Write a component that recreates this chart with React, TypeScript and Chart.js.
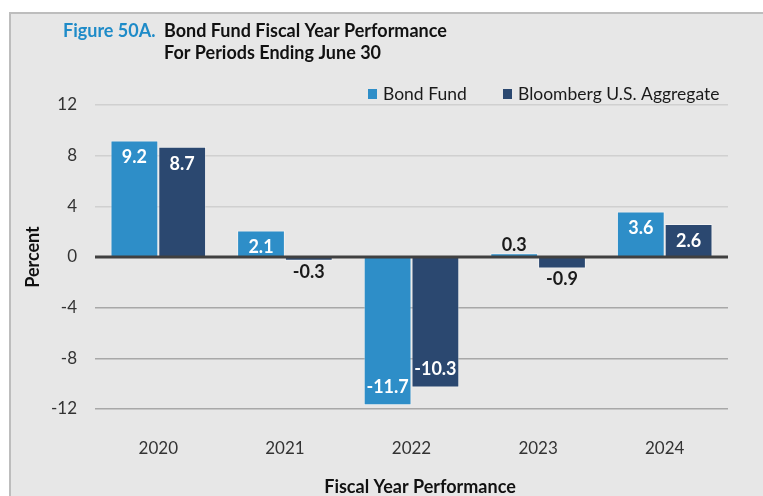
import React, { useEffect, useRef } from "react";
import { Chart, registerables } from "chart.js";

Chart.register(...registerables);

const years = ["2020", "2021", "2022", "2023", "2024"];
const bondFund = [9.2, 2.1, -11.7, 0.3, 3.6];
const bloomberg = [8.7, -0.3, -10.3, -0.9, 2.6];
const yTicks = [-12, -8, -4, 0, 4, 8, 12];
const seriesNames = ["Bond Fund", "Bloomberg U.S. Aggregate"];
const seriesColors = ["#2e8ec8", "#2b4870"];
const figureLabel = "Figure 50A.";
const titleLines = ["Bond Fund Fiscal Year Performance", "For Periods Ending June 30"];
const yTitle = "Percent";
const xTitle = "Fiscal Year Performance";

const FONT = "Lato, 'Open Sans', sans-serif";
const W = 763;
const H = 496;

const decorPlugin = {
  id: "decor",
  beforeDraw(chart: any) {
    const ctx = chart.ctx;
    ctx.save();
    ctx.fillStyle = "#ffffff";
    ctx.fillRect(0, 0, W, H);
    ctx.fillStyle = "#e7e7e7";
    ctx.fillRect(10, 13, W - 10, H - 13);
    ctx.strokeStyle = "#bdbdbd";
    ctx.lineWidth = 2;
    ctx.beginPath();
    ctx.moveTo(10, H);
    ctx.lineTo(10, 13);
    ctx.lineTo(W, 13);
    ctx.stroke();

    // title
    ctx.textBaseline = "middle";
    ctx.textAlign = "left";
    ctx.font = `bold 18px ${FONT}`;
    ctx.fillStyle = "#1e8bc8";
    ctx.fillText(figureLabel, 63, 31);
    ctx.fillStyle = "#111111";
    ctx.fillText(titleLines[0], 164, 31);
    ctx.fillText(titleLines[1], 164, 53);

    // legend
    ctx.font = `17.5px ${FONT}`;
    const legendX = [368, 503];
    for (let i = 0; i < seriesNames.length; i++) {
      ctx.fillStyle = seriesColors[i];
      ctx.fillRect(legendX[i], 89, 9, 10);
      ctx.fillStyle = "#1a1a1a";
      ctx.fillText(seriesNames[i], legendX[i] + 15, 94);
    }

    // axis titles
    const ca = chart.chartArea;
    ctx.font = `bold 18px ${FONT}`;
    ctx.fillStyle = "#111111";
    ctx.textAlign = "center";
    ctx.fillText(xTitle, 420, 487);
    ctx.save();
    ctx.translate(33, (ca.top + ca.bottom) / 2);
    ctx.rotate(-Math.PI / 2);
    ctx.fillText(yTitle, 0, 0);
    ctx.restore();
    ctx.restore();
  },
  afterDatasetsDraw(chart: any) {
    const ctx = chart.ctx;
    const ca = chart.chartArea;
    const y0 = chart.scales.y.getPixelForValue(0);
    ctx.save();
    ctx.strokeStyle = "#404040";
    ctx.lineWidth = 3;
    ctx.beginPath();
    ctx.moveTo(ca.left, y0);
    ctx.lineTo(ca.right, y0);
    ctx.stroke();

    ctx.font = `bold 18px ${FONT}`;
    ctx.textAlign = "center";
    ctx.textBaseline = "middle";
    chart.data.datasets.forEach((ds: any, di: number) => {
      const meta = chart.getDatasetMeta(di);
      meta.data.forEach((el: any, i: number) => {
        const v = ds.data[i] as number;
        const txt = v.toFixed(1);
        let y: number;
        if (Math.abs(v) < 1) {
          ctx.fillStyle = "#1a1a1a";
          y = v >= 0 ? el.y - 8 : el.y + 11;
        } else {
          ctx.fillStyle = "#ffffff";
          y = v >= 0 ? el.y + 17 : el.y - 18;
        }
        ctx.fillText(txt, el.x, y);
      });
    });
    ctx.restore();
  },
};

export default function App() {
  const ref = useRef<HTMLCanvasElement>(null);
  useEffect(() => {
    if (!ref.current) return;
    const chart = new Chart(ref.current, {
      type: "bar",
      data: {
        labels: years,
        datasets: [
          {
            label: seriesNames[0],
            data: bondFund,
            backgroundColor: seriesColors[0],
            borderColor: "rgba(255,255,255,0.45)",
            borderWidth: 1,
          },
          {
            label: seriesNames[1],
            data: bloomberg,
            backgroundColor: seriesColors[1],
            borderColor: "rgba(255,255,255,0.45)",
            borderWidth: 1,
          },
        ],
      },
      options: {
        responsive: false,
        animation: false,
        devicePixelRatio: 1,
        layout: { padding: { top: 105, right: 35, left: 0, bottom: 0 } },
        datasets: { bar: { categoryPercentage: 0.755, barPercentage: 1 } },
        plugins: { legend: { display: false }, tooltip: { enabled: false }, title: { display: false } },
        scales: {
          x: {
            grid: { display: false, drawTicks: false },
            border: { display: false },
            ticks: { color: "#333333", font: { family: FONT, size: 17 }, padding: 29 },
            afterFit: (s: any) => {
              s.height = 87;
            },
          },
          y: {
            min: -12,
            max: 12,
            afterBuildTicks: (s: any) => {
              s.ticks = yTicks.map((v) => ({ value: v }));
            },
            grid: {
              drawTicks: false,
              color: (c: any) =>
                c.tick && c.tick.value === 0
                  ? "rgba(0,0,0,0)"
                  : c.tick && c.tick.value > 0
                  ? "#d0d0d0"
                  : "#a8a8a8",
              lineWidth: 1.5,
            },
            border: { display: false },
            ticks: { color: "#333333", font: { family: FONT, size: 17 }, padding: 18 },
            afterFit: (s: any) => {
              s.width = 95;
            },
          },
        },
      },
      plugins: [decorPlugin],
    } as any);
    return () => chart.destroy();
  }, []);
  return (
    <div style={{ position: "fixed", left: 0, top: 0, width: W, height: H }}>
      <canvas ref={ref} width={W} height={H} style={{ display: "block" }} />
    </div>
  );
}
